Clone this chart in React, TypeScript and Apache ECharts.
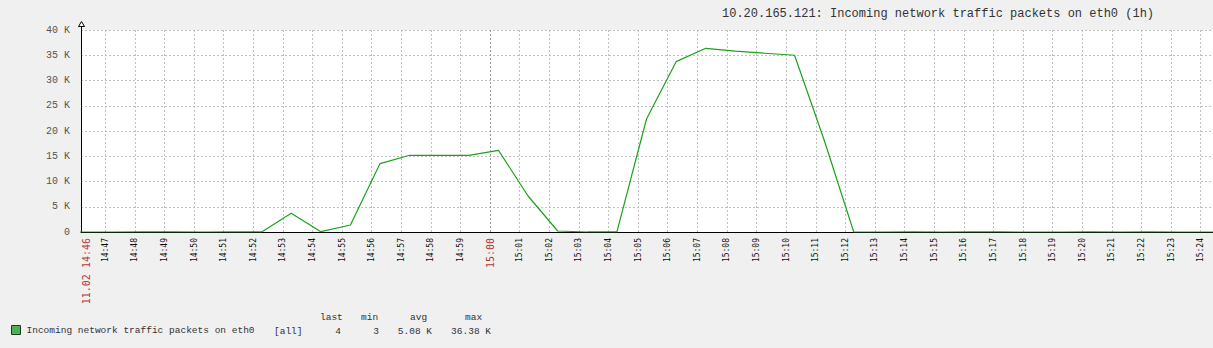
import React, { useEffect, useRef } from "react";
import * as echarts from "echarts";

const TITLE = "10.20.165.121: Incoming network traffic packets on eth0 (1h)";
const SERIES_NAME = "Incoming network traffic packets on eth0";
const START_LABEL = "11.02 14:46";

const TIMES = [
  "14:45:17", "14:46:17", "14:47:17", "14:48:17", "14:49:17", "14:50:17", "14:51:17",
  "14:52:17", "14:53:17", "14:54:17", "14:55:17", "14:56:17", "14:57:17", "14:58:17",
  "14:59:17", "15:00:17", "15:01:17", "15:02:17", "15:03:17", "15:04:17", "15:05:17",
  "15:06:17", "15:07:17", "15:08:17", "15:09:17", "15:10:17", "15:11:17", "15:12:17",
  "15:13:17", "15:14:17", "15:15:17", "15:16:17", "15:17:17", "15:18:17", "15:19:17",
  "15:20:17", "15:21:17", "15:22:17", "15:23:17", "15:24:17", "15:25:17",
];
const VALUES = [
  5, 4, 3, 6, 5, 4, 5,
  8, 3700, 60, 1390, 13550, 15190, 15190,
  15190, 16180, 7130, 200, 5, 6, 22380,
  33730, 36380, 35800, 35400, 35000, 18220, 4,
  3, 5, 4, 6, 5, 4, 3,
  5, 4, 5, 4, 4, 4,
];

const X_TICK_LABELS = [
  "14:47", "14:48", "14:49", "14:50", "14:51", "14:52", "14:53", "14:54", "14:55", "14:56",
  "14:57", "14:58", "14:59", "15:00", "15:01", "15:02", "15:03", "15:04", "15:05", "15:06",
  "15:07", "15:08", "15:09", "15:10", "15:11", "15:12", "15:13", "15:14", "15:15", "15:16",
  "15:17", "15:18", "15:19", "15:20", "15:21", "15:22", "15:23", "15:24",
];

const RANGE_START = "14:46:11";
const RANGE_END = "15:24:25";

const STAT_HEADERS = ["last", "min", "avg", "max"];
const STAT_VALUES = ["4", "3", "5.08 K", "36.38 K"];
const ITEM_FUNC = "[all]";

const BASE = 14 * 60 + 46;
function toMin(s: string): number {
  const p = s.split(":").map(Number);
  return p[0] * 60 + p[1] + (p[2] || 0) / 60 - BASE;
}

const MONO = "'Liberation Mono', 'DejaVu Sans Mono', monospace";
const XMONO = "'DejaVu Sans Mono', monospace";
const RED = "#b03a3a";
const TEXT = "#333333";

export default function App() {
  const ref = useRef<HTMLDivElement>(null);
  useEffect(() => {
    if (!ref.current) return;
    const chart = echarts.init(ref.current, undefined, { renderer: "svg" });
    const tickVals = X_TICK_LABELS.map((l) => toMin(l));
    const xMin = toMin(RANGE_START);
    const xMax = toMin(RANGE_END);
    const splitColors = X_TICK_LABELS.map((l) => (l.endsWith(":00") ? "#999999" : "#c0c0c0"));

    const headerX = [320, 361, 410, 465];
    const valueRight = [341, 379, 432, 491];
    const graphics: any[] = [
      { type: "line", shape: { x1: 81.5, y1: 30, x2: 81.5, y2: 25 }, style: { stroke: "#000", lineWidth: 1 } },
      { type: "polygon", shape: { points: [[78.5, 26.5], [84.5, 26.5], [81.5, 21.5]] }, style: { stroke: "#000", fill: "#fff", lineWidth: 1 } },
      { type: "text", x: 274, y: 331, style: { text: ITEM_FUNC, font: `9.5px ${MONO}`, fill: TEXT, textVerticalAlign: "middle" } },
    ];
    STAT_HEADERS.forEach((h, i) => {
      graphics.push({ type: "text", x: headerX[i], y: 317, style: { text: h, font: `9.5px ${MONO}`, fill: TEXT, textVerticalAlign: "middle" } });
    });
    STAT_VALUES.forEach((v, i) => {
      graphics.push({ type: "text", x: valueRight[i], y: 331, style: { text: v, font: `9.5px ${MONO}`, fill: TEXT, textAlign: "right", textVerticalAlign: "middle" } });
    });

    chart.setOption({
      animation: false,
      backgroundColor: "#f0f0f0",
      title: {
        text: TITLE,
        left: 722,
        top: 8,
        padding: 0,
        textStyle: { fontFamily: MONO, fontSize: 12, fontWeight: "normal", color: TEXT },
      },
      legend: {
        data: [{ name: SERIES_NAME }],
        left: 11,
        top: 325,
        padding: 0,
        icon: "rect",
        itemWidth: 9,
        itemHeight: 9,
        itemGap: 6,
        itemStyle: { color: "#4caf50", borderColor: "#1d3d1d", borderWidth: 1 },
        textStyle: { fontFamily: MONO, fontSize: 9.5, color: TEXT, padding: [0, 0, 0, 1] },
        selectedMode: false,
      },
      grid: {
        left: 81,
        top: 30,
        right: 0,
        bottom: 116,
        show: true,
        backgroundColor: "#ffffff",
        borderWidth: 0,
        containLabel: false,
        outerBoundsMode: "none",
      },
      xAxis: {
        type: "value",
        min: xMin,
        max: xMax,
        axisLine: { show: true, lineStyle: { color: "#000", width: 1 } },
        axisTick: { show: false, customValues: tickVals },
        splitLine: { show: true, lineStyle: { color: splitColors, type: [2, 2], width: 1 } },
        axisLabel: {
          customValues: [xMin + 0.17, ...tickVals],
          rotate: 90,
          margin: 6,
          fontFamily: XMONO,
          fontSize: 8,
          color: "#111",
          formatter: (v: number) => {
            if (v < 0.9) return `{big|${START_LABEL}}`;
            const idx = Math.round(v) - 1;
            const l = X_TICK_LABELS[idx] ?? "";
            return l.endsWith(":00") ? `{big|${l}}` : l;
          },
          rich: {
            big: { fontFamily: XMONO, fontSize: 10, color: RED },
          },
        },
      },
      yAxis: {
        type: "value",
        min: 0,
        max: 40000,
        interval: 5000,
        axisLine: { show: true, lineStyle: { color: "#000", width: 1 } },
        axisTick: { show: false },
        splitLine: { show: true, lineStyle: { color: "#c0c0c0", type: [2, 2], width: 1 } },
        axisLabel: {
          margin: 11,
          fontFamily: MONO,
          fontSize: 10,
          color: "#555",
          formatter: (v: number) => (v === 0 ? "0" : `${v / 1000} K`),
        },
      },
      graphic: graphics,
      series: [
        {
          name: SERIES_NAME,
          type: "line",
          data: TIMES.map((t, i) => [toMin(t), VALUES[i]]),
          showSymbol: false,
          symbol: "none",
          clip: true,
          lineStyle: { color: "#1aa31a", width: 1.2 },
          itemStyle: { color: "#1aa31a" },
        },
      ],
    });
    return () => chart.dispose();
  }, []);
  return (
    <div
      ref={ref}
      style={{ position: "absolute", left: 0, top: 0, width: 1213, height: 348 }}
    />
  );
}
